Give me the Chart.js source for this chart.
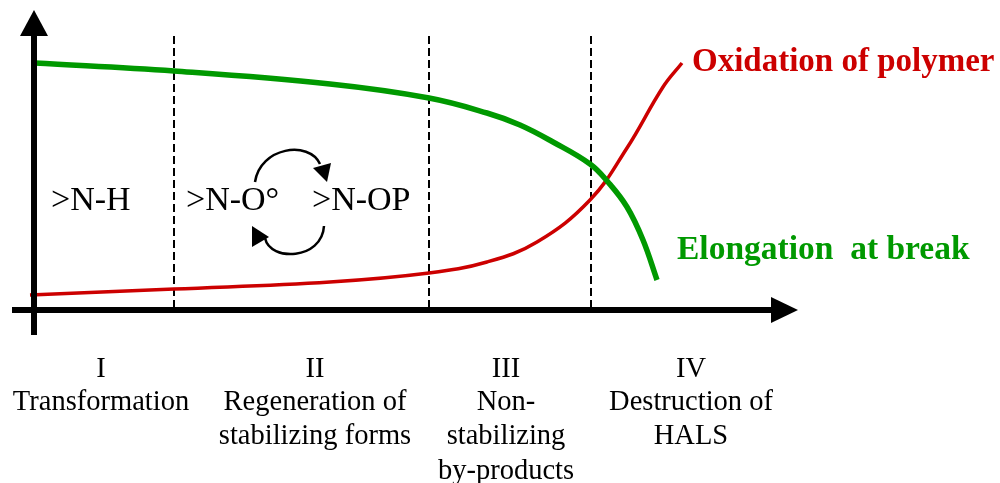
<!DOCTYPE html>
<html>
<head>
<meta charset="utf-8">
<style>
  html, body { margin: 0; padding: 0; background: #fff; }
  canvas { display: block; }
</style>
<script src="https://cdn.jsdelivr.net/npm/chart.js@4/dist/chart.umd.min.js"></script>
</head>
<body>
<canvas id="c" width="1000" height="483"></canvas>
<script>
const elongationX = [1, 140, 296, 395, 453, 486, 519, 556, 574, 593, 609, 623];
const elongationY = [247, 239, 226, 212, 197, 185, 168, 146, 128, 103, 70, 30];
const oxidationX = [-4, 140, 296, 395, 453, 503, 556, 593, 629, 648];
const oxidationY = [15, 21, 28, 37, 48, 68, 110, 162, 223, 247];
const dividerX = [140, 395, 557];
const dividerY = [274, 0];

const oxidationLabel = 'Oxidation of polymer';
const elongationLabel = 'Elongation  at break';
const stateLabels = ['>N-H', '>N-O°', '>N-OP'];
const stageLines = [
  ['I', 'Transformation'],
  ['II', 'Regeneration of', 'stabilizing forms'],
  ['III', 'Non-', 'stabilizing', 'by-products'],
  ['IV', 'Destruction of', 'HALS']
];

const SERIF = "'Liberation Serif', 'Times New Roman', serif";
const RED = '#cc0000';
const GREEN = '#009900';

const toPoints = (xs, ys) => xs.map((x, i) => ({x, y: ys[i]}));

const dividers = dividerX.map(x => ({
  data: toPoints([x, x], dividerY),
  borderColor: '#000',
  borderWidth: 2,
  borderDash: [8, 4],
  pointRadius: 0,
  order: 5
}));

// axes, arrowheads, labels and the little cycle arrows
const annotations = {
  id: 'annotations',
  afterDatasetsDraw(chart) {
    const {ctx, scales: {x: sx, y: sy}} = chart;
    const X = v => sx.getPixelForValue(v);
    const Y = v => sy.getPixelForValue(v);

    const tri = pts => {
      ctx.beginPath();
      pts.forEach((p, i) => i ? ctx.lineTo(X(p[0]), Y(p[1])) : ctx.moveTo(X(p[0]), Y(p[1])));
      ctx.closePath();
      ctx.fill();
    };
    const curve = (a, b, c, d) => {
      ctx.beginPath();
      ctx.moveTo(X(a[0]), Y(a[1]));
      ctx.bezierCurveTo(X(b[0]), Y(b[1]), X(c[0]), Y(c[1]), X(d[0]), Y(d[1]));
      ctx.stroke();
    };
    const text = (str, x, y, size, color, align, bold) => {
      ctx.font = (bold ? 'bold ' : '') + size + 'px ' + SERIF;
      ctx.fillStyle = color;
      ctx.textAlign = align;
      ctx.textBaseline = 'middle';
      ctx.fillText(str, X(x), Y(y));
    };

    ctx.save();
    ctx.fillStyle = '#000';
    ctx.strokeStyle = '#000';

    // y axis
    ctx.lineWidth = 6;
    ctx.beginPath();
    ctx.moveTo(X(0), Y(-25));
    ctx.lineTo(X(0), Y(275));
    ctx.stroke();
    tri([[0, 300], [-14, 274], [14, 274]]);

    // x axis
    ctx.beginPath();
    ctx.moveTo(X(-22), Y(0));
    ctx.lineTo(X(738), Y(0));
    ctx.stroke();
    tri([[764, 0], [737, 13], [737, -13]]);

    // cycle arrows
    ctx.lineWidth = 2.5;
    curve([221, 128], [226, 163], [275, 170], [286, 146]);
    tri([[297, 147], [279, 142], [293, 128]]);
    curve([290, 84], [288, 50], [236, 48], [231, 72]);
    tri([[218, 84], [235, 73], [218, 63]]);

    text(stateLabels[0], 17, 109, 34, '#000', 'left');
    text(stateLabels[1], 152, 109, 34, '#000', 'left');
    text(stateLabels[2], 278, 109, 34, '#000', 'left');

    text(oxidationLabel, 658, 248, 33, RED, 'left', true);
    text(elongationLabel, 643, 60, 33.5, GREEN, 'left', true);

    const stageCentres = [67, 281, 472, 657];
    const lineRows = [-60, -93, -127, -162];
    stageLines.forEach((lines, i) => {
      lines.forEach((line, j) => text(line, stageCentres[i], lineRows[j], 28.5, '#000', 'center'));
    });
    ctx.restore();
  }
};

new Chart(document.getElementById('c'), {
  type: 'line',
  data: {
    datasets: [
      {label: 'Elongation at break', data: toPoints(elongationX, elongationY), borderColor: GREEN, borderWidth: 5.5, pointRadius: 0, tension: 0.4, order: 1},
      {label: 'Oxidation of polymer', data: toPoints(oxidationX, oxidationY), borderColor: RED, borderWidth: 3.5, pointRadius: 0, tension: 0.4, order: 2},
      ...dividers
    ]
  },
  options: {
    responsive: false,
    animation: false,
    layout: {padding: 0},
    plugins: {legend: {display: false}, tooltip: {enabled: false}},
    scales: {
      x: {type: 'linear', display: false, min: -34, max: 966},
      y: {type: 'linear', display: false, min: -173, max: 310}
    }
  },
  plugins: [annotations]
});
</script>
</body>
</html>
